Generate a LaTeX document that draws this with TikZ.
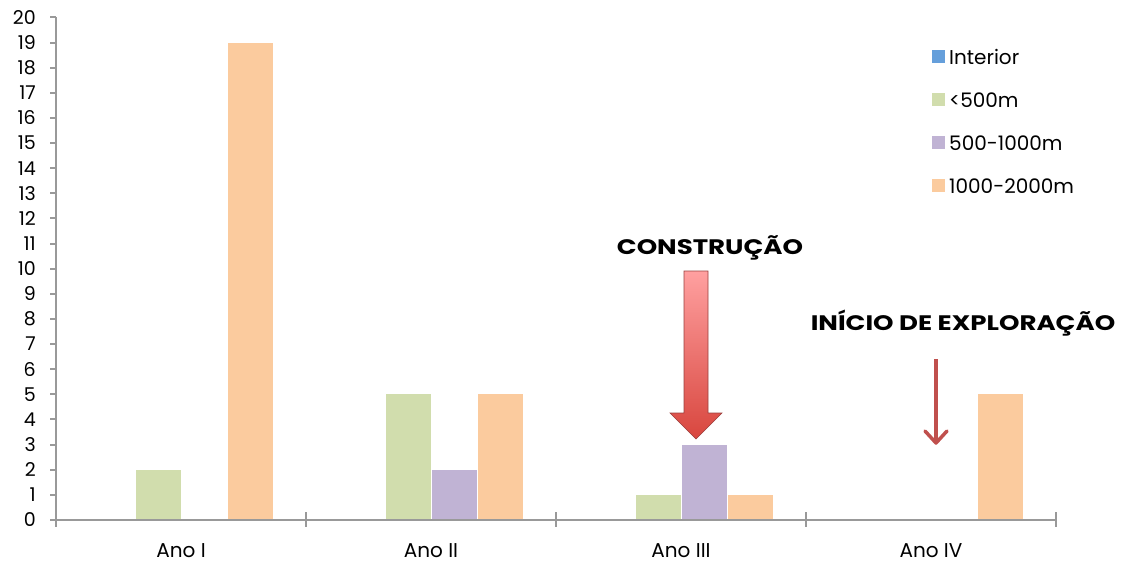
\documentclass[tikz,border=0pt]{standalone}
\usepackage{fontspec}
\setmainfont{Poppins}
\newfontfamily\notefont[FakeStretch=1.24]{Poppins}
\usetikzlibrary{calc}
\definecolor{axisgray}{HTML}{999999}
\definecolor{cblue}{HTML}{659FDB}
\definecolor{cgreen}{HTML}{D1DDAD}
\definecolor{cpurple}{HTML}{C0B3D4}
\definecolor{corange}{HTML}{FBCB9E}
\definecolor{arrowred}{HTML}{C0504D}
\definecolor{arrowtop}{HTML}{FFA0A0}
\definecolor{arrowbot}{HTML}{D8463E}
\tikzset{
  axisline/.style={draw=axisgray, line width=2pt},
  ticklabel/.style={font=\fontsize{19}{21}\selectfont, anchor=east, inner sep=0pt},
  catlabel/.style={font=\fontsize{20}{22}\selectfont, inner sep=0pt},
  legtext/.style={font=\fontsize{20}{22}\selectfont, anchor=west, inner sep=0pt},
  note/.style={font=\notefont\fontsize{21}{23}\selectfont\bfseries, inner sep=0pt},
}
\begin{document}
\begin{tikzpicture}[x=1pt,y=-1pt]
\useasboundingbox (0,0) rectangle (1128,563);
% bars
\def\zero{520}
\def\unit{25.13}
\foreach \cat/\k/\v/\col in {0/1/2/cgreen,0/3/19/corange,
  1/1/5/cgreen,1/2/2/cpurple,1/3/5/corange,
  2/1/1/cgreen,2/2/3/cpurple,2/3/1/corange,
  3/3/5/corange}{
  \pgfmathsetmacro{\xa}{56+250*\cat+34+46*\k}
  \pgfmathsetmacro{\ya}{\zero-\unit*\v}
  \fill[\col] (\xa,\zero) rectangle ({\xa+45},\ya);
}
% axes
\draw[axisline] (56,17.3) -- (56,527);
\draw[axisline] (56,520) -- (1056,520);
\foreach \i in {0,...,20}{
  \pgfmathsetmacro{\yy}{\zero-\unit*\i}
  \draw[axisline] (50,\yy) -- (56,\yy);
  \node[ticklabel] (yl\i) at (36,\yy) {\i};
}
\foreach \i in {0,...,4}{
  \draw[axisline] ({56+250*\i},512) -- ({56+250*\i},527);
}
\node[catlabel] (c1) at (181,551) {Ano I};
\node[catlabel] (c2) at (431,551) {Ano II};
\node[catlabel] (c3) at (681,551) {Ano III};
\node[catlabel] (c4) at (931,551) {Ano IV};
% legend
\foreach \n/\col/\t [count=\j from 0] in {li/cblue/Interior,lg/cgreen/{<500m},lp/cpurple/{500-1000m},lo/corange/{1000-2000m}}{
  \fill[\col] (932,{50+43*\j}) rectangle (945,{63+43*\j});
  \node[legtext] (\n) at (949,{57+43*\j}) {\t};
}
% annotations
\node[note] (constr) at (710,248) {CONSTRUÇÃO};
\node[note] (inicio) at (963,323) {INÍCIO DE EXPLORAÇÃO};
% big arrow
\coordinate (bigtop) at (696,271);
\coordinate (bigtip) at (696,439);
\shade[top color=arrowtop, bottom color=arrowbot, draw=arrowred!80!black, line width=0.6pt]
  ($(bigtop)+(-12,0)$) -- ($(bigtop)+(12,0)$) -- (708,413) -- (722,413) -- (bigtip)
  -- (670,413) -- (684,413) -- cycle;
% small arrow
\coordinate (smtop) at (936,359);
\coordinate (smtip) at (936,443);
\draw[arrowred, line width=3.5pt] (smtop) -- ($(smtip)+(0,-3)$);
\draw[arrowred, line width=3.5pt, line cap=round, line join=round] (925,431) -- (smtip) -- (947,431);
\end{tikzpicture}
\end{document}
